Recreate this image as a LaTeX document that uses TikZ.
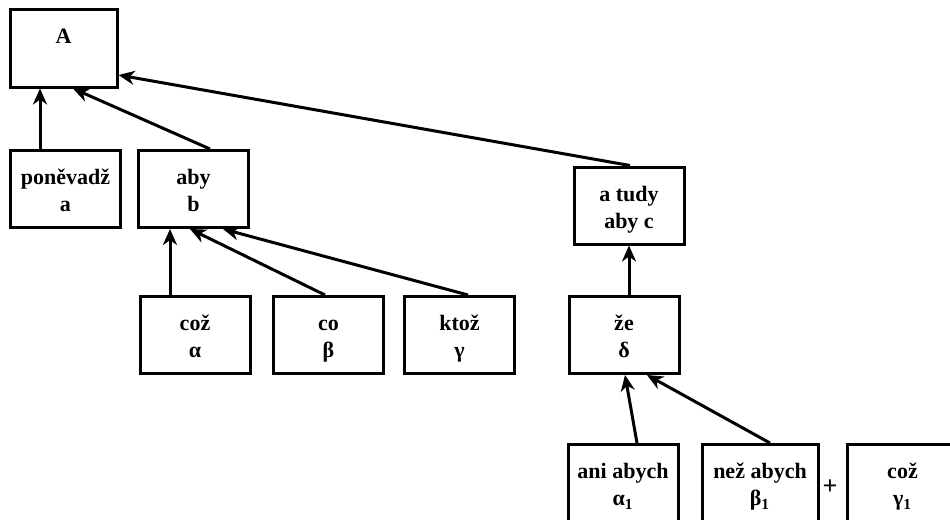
\documentclass[tikz,border=0pt]{standalone}
\usepackage{fontspec}
\setmainfont{Liberation Serif}
\usetikzlibrary{arrows.meta,calc}
\newcommand\tstrut{\rule{0pt}{13.5pt}}
\begin{document}
\begin{tikzpicture}[x=0.5pt,y=-0.5pt,
  box/.style={draw,line width=1.5pt,minimum width=55pt,minimum height=38.5pt,inner sep=0pt,align=center,
    font=\fontsize{11pt}{13.5pt}\selectfont\bfseries},
  arr/.style={line width=1.5pt,-{Stealth[length=8pt,width=7pt,inset=2.5pt]}},
  plus/.style={inner sep=0pt,font=\fontsize{13pt}{13.5pt}\selectfont\bfseries}]
\useasboundingbox (0,0) rectangle (950,520);
\clip (0,0) rectangle (950,520);
\node[box,minimum width=53.5pt,minimum height=39pt] (A) at (63.5,48) {\tstrut A\\\strut};
\node[box] (pon) at (65.5,189) {\tstrut poněvadž\\\strut a};
\node[box] (aby) at (193.5,189) {\tstrut aby\\\strut b};
\node[box] (atudy) at (629,205.5) {\tstrut a tudy\\\strut aby c};
\node[box] (alpha) at (195,335) {\tstrut což\\\strut α};
\node[box] (beta) at (328.5,335) {\tstrut co\\\strut β};
\node[box] (gamma) at (459.5,335) {\tstrut ktož\\\strut γ};
\node[box] (ze) at (624,335) {\tstrut že\\\strut δ};
\node[box] (ani) at (623,483) {\tstrut ani abych\\\strut α\textsubscript{1}};
\node[box,minimum width=58pt] (nez) at (760,483) {\tstrut než abych\\\strut β\textsubscript{1}};
\node[box] (coz1) at (902.5,483) {\tstrut což\\\strut γ\textsubscript{1}};
\node[plus] (plus) at (830,487) {+};
\draw[arr] ($(pon.north)+(-25.5,0)$) -- ($(A.south)+(-23.5,0)$);
\draw[arr] ($(aby.north)+(16.5,0)$) -- ($(A.south)+(9.5,0)$);
\draw[arr] ($(atudy.north)+(1,0)$) -- ($(A.east)+(0,27)$);
\draw[arr] ($(alpha.north)+(-25,0)$) -- ($(aby.south)+(-23.5,0)$);
\draw[arr] ($(beta.north)+(-3.5,0)$) -- ($(aby.south)+(-3.5,0)$);
\draw[arr] ($(gamma.north)+(8.5,0)$) -- ($(aby.south)+(29.5,0)$);
\draw[arr] ($(ze.north)+(5,0)$) -- ($(atudy.south)+(0,0)$);
\draw[arr] ($(ani.north)+(14,0)$) -- ($(ze.south)+(1,0)$);
\draw[arr] ($(nez.north)+(10,0)$) -- ($(ze.south)+(23,0)$);
\end{tikzpicture}
\end{document}
